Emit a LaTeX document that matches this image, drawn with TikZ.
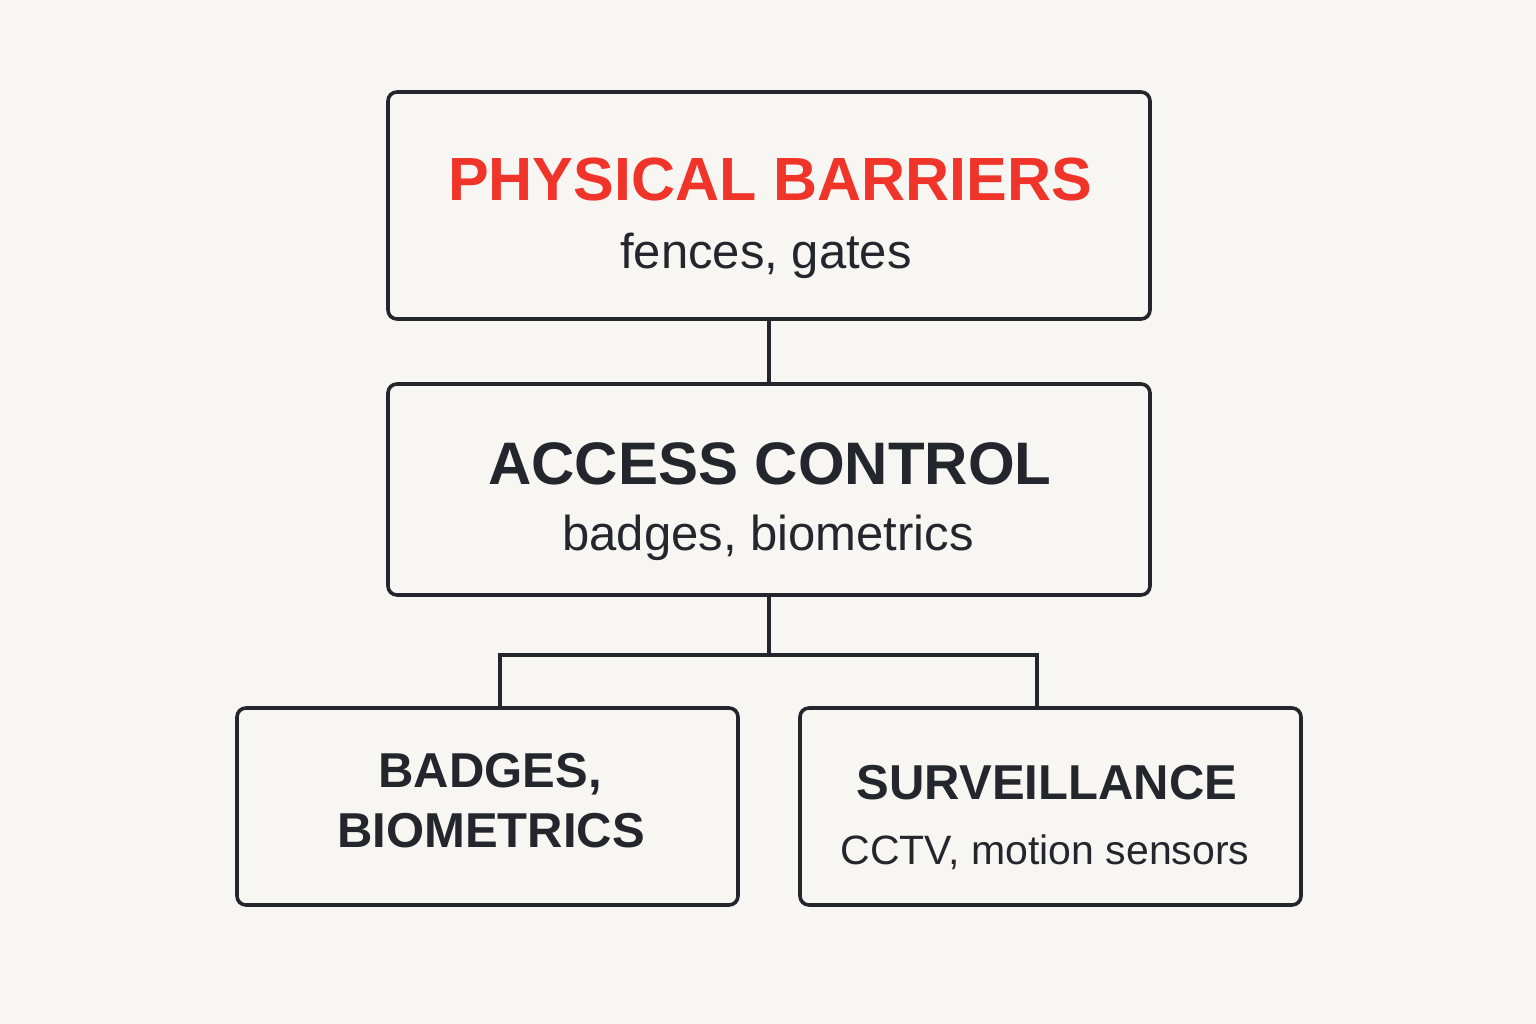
\documentclass[tikz,border=0pt]{standalone}
\usepackage{fontspec}
\setmainfont{Liberation Sans}
\definecolor{bg}{HTML}{F8F6F2}
\definecolor{ink}{HTML}{23272D}
\definecolor{redt}{HTML}{F0342A}
\begin{document}
\begin{tikzpicture}[x=1pt,y=-1pt,
  box/.style={draw=ink,line width=3.6pt,rounded corners=9pt,fill=bg,inner sep=0pt},
  link/.style={draw=ink,line width=3.6pt},
  ttl/.style={anchor=base,inner sep=0pt,text=ink,font=\bfseries\fontsize{60}{60}\selectfont},
  sub/.style={anchor=base,inner sep=0pt,text=ink,font=\fontsize{49}{49}\selectfont}]
\fill[bg] (0,0) rectangle (1536,1024);
\useasboundingbox (0,0) rectangle (1536,1024);
% boxes
\node[box,minimum width=762pt,minimum height=227pt] (pb) at (769,205.5) {};
\node[box,minimum width=762pt,minimum height=211pt] (ac) at (769,489.5) {};
\node[box,minimum width=501pt,minimum height=197pt] (bb) at (487.5,806.5) {};
\node[box,minimum width=501pt,minimum height=197pt] (sv) at (1050.5,806.5) {};
% connectors
\coordinate (j) at (769,655);
\coordinate (jl) at (500,655);
\coordinate (jr) at (1037,655);
\draw[link] (pb.south) -- (ac.north);
\draw[link] (ac.south) -- (j);
\draw[link] (jl |- bb.north) -- (jl) -- (jr) -- (jr |- sv.north);
% texts
\node[ttl,text=redt,font=\bfseries\fontsize{61}{61}\selectfont] (pbt) at (770,201) {PHYSICAL BARRIERS};
\node[sub] (pbs) at (766,269) {fences, gates};
\node[ttl] (act) at (770,484) {ACCESS CONTROL};
\node[sub] (acs) at (768,550) {badges, biometrics};
\node[ttl,font=\bfseries\fontsize{49}{49}\selectfont] (bbt1) at (490,787) {BADGES,};
\node[ttl,font=\bfseries\fontsize{49}{49}\selectfont] (bbt2) at (491,847) {BIOMETRICS};
\node[ttl,font=\bfseries\fontsize{49}{49}\selectfont] (svt) at (1047,799) {SURVEILLANCE};
\node[sub,font=\fontsize{41}{41}\selectfont] (svs) at (1045,864) {CCTV, motion sensors};
\end{tikzpicture}
\end{document}
